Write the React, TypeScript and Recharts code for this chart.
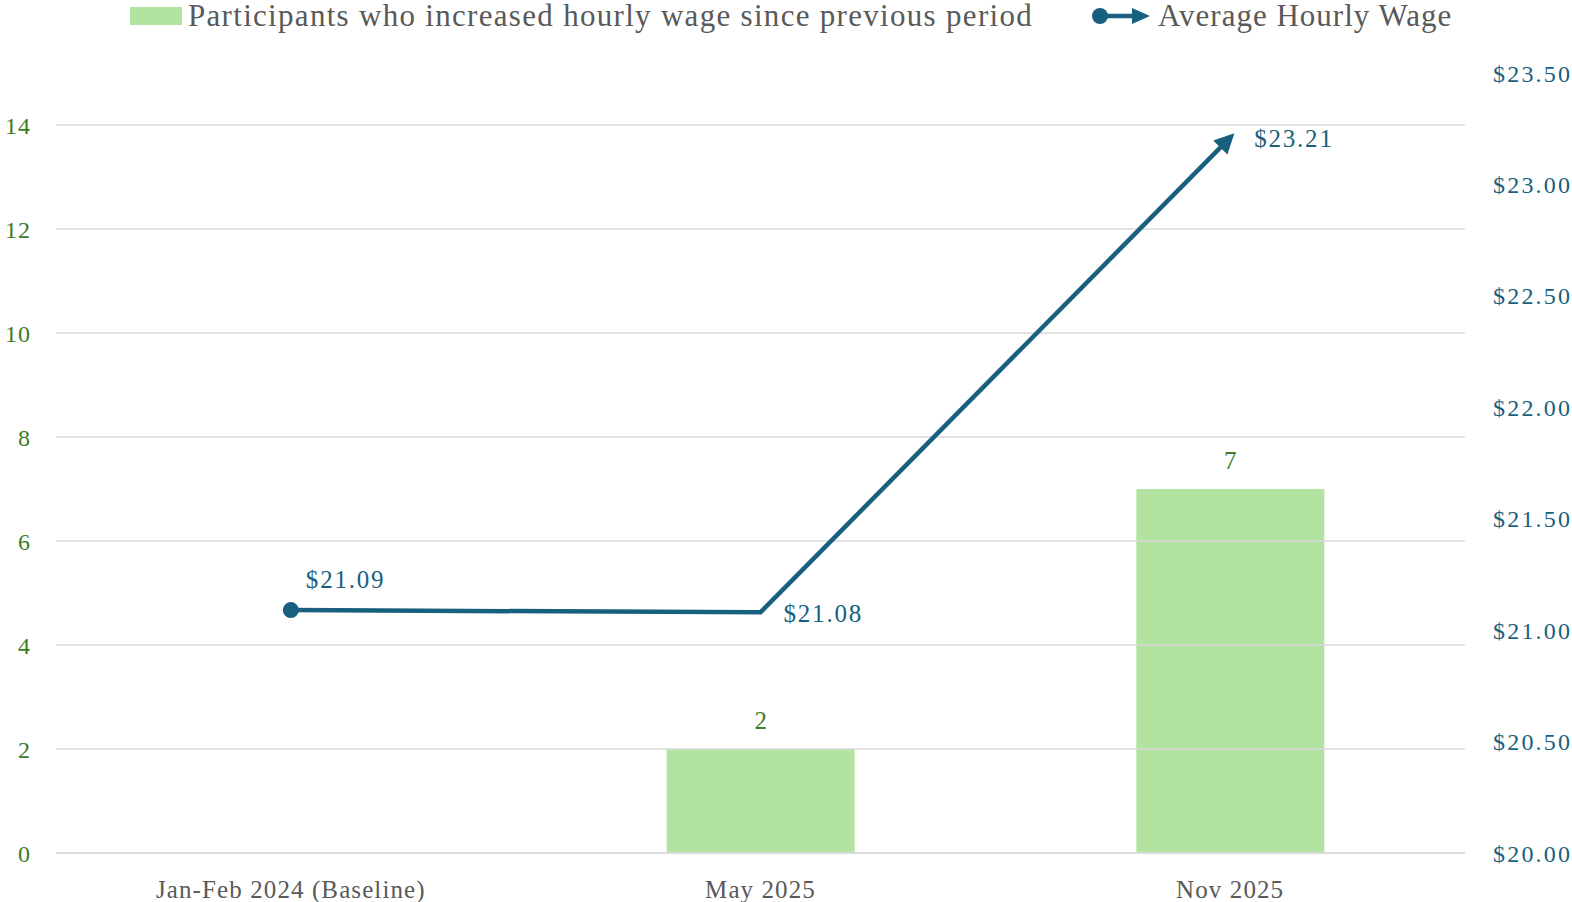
import { ComposedChart, Bar, Line, XAxis, YAxis, ReferenceLine, LabelList } from 'recharts';

const periods = ['Jan-Feb 2024 (Baseline)', 'May 2025', 'Nov 2025'];
const participantsIncreased = [0, 2, 7];
const avgHourlyWage = [21.09, 21.08, 23.21];
const leftTicks = [0, 2, 4, 6, 8, 10, 12, 14];
const rightTicks = [20, 20.5, 21, 21.5, 22, 22.5, 23, 23.5];

const GREEN_BAR = '#b3e3a0';
const GREEN_TEXT = '#3b7d23';
const BLUE = '#195f80';
const GRAY_TEXT = '#595959';
const GRID = '#d9d9d9';
const FONT = '"Liberation Serif", "Times New Roman", serif';

const data = periods.map((p, i) => ({
    period: p,
    participants: participantsIncreased[i],
    wage: avgHourlyWage[i],
}));

// label offsets for the wage line, per point
const wageLabelOffset = [
    { dx: 15, dy: -31 },
    { dx: 23, dy: 1 },
    { dx: 24, dy: 1 },
];

const WageDot = (props: any) => {
    const { cx, cy, index } = props;
    if (index !== 0) return <g key={`d${index}`} />;
    return <circle key={`d${index}`} cx={cx} cy={cy} r={8} fill={BLUE} />;
};

export default function App() {
    return (
        <div style={{ position: 'absolute', left: 0, top: 0, width: 1572, height: 902, background: '#fff', fontFamily: FONT }}>
            <svg width={0} height={0} style={{ position: 'absolute' }}>
                <defs>
                    <marker
                        id="wageArrow"
                        viewBox="0 0 10 10"
                        refX={7}
                        refY={5}
                        markerWidth={22}
                        markerHeight={20}
                        markerUnits="userSpaceOnUse"
                        orient="auto"
                    >
                        <path d="M0,0 L10,5 L0,10 z" fill={BLUE} />
                    </marker>
                </defs>
            </svg>

            {/* Legend */}
            <div style={{ position: 'absolute', top: -1, left: 130, height: 34, display: 'flex', alignItems: 'center', fontSize: 31, letterSpacing: 1.3, color: GRAY_TEXT }}>
                <div style={{ width: 52, height: 18, background: GREEN_BAR, marginRight: 6 }} />
                <span>Participants who increased hourly wage since previous period</span>
            </div>
            <div style={{ position: 'absolute', top: -1, left: 1090, height: 34, display: 'flex', alignItems: 'center', fontSize: 31, letterSpacing: 1, color: GRAY_TEXT }}>
                <svg width={62} height={20} style={{ marginRight: 6 }}>
                    <line x1={10} y1={10} x2={46} y2={10} stroke={BLUE} strokeWidth={4.5} />
                    <circle cx={10} cy={10} r={8} fill={BLUE} />
                    <path d="M42,2 L60,10 L42,18 z" fill={BLUE} />
                </svg>
                <span>Average Hourly Wage</span>
            </div>

            <ComposedChart
                width={1572}
                height={902}
                data={data}
                margin={{ top: 73, right: 0, bottom: 0, left: 0 }}
                style={{ fontFamily: FONT }}
            >
                <XAxis
                    dataKey="period"
                    height={49}
                    axisLine={{ stroke: GRID, strokeWidth: 1.5 }}
                    tickLine={false}
                    tickSize={0}
                    tickMargin={27}
                    tick={{ fontSize: 25, fill: GRAY_TEXT, fontFamily: FONT, letterSpacing: 1.1 }}
                />
                <YAxis
                    yAxisId="left"
                    width={56}
                    domain={[0, 15]}
                    ticks={leftTicks}
                    axisLine={false}
                    tickLine={false}
                    tickSize={0}
                    tickMargin={25}
                    tick={{ fontSize: 24, fill: GREEN_TEXT, fontFamily: FONT, letterSpacing: 1 }}
                />
                <YAxis
                    yAxisId="right"
                    orientation="right"
                    width={107}
                    domain={[20, 23.5]}
                    ticks={rightTicks}
                    axisLine={false}
                    tickLine={false}
                    tickSize={0}
                    tickMargin={28}
                    tick={{ fontSize: 24, fill: BLUE, fontFamily: FONT, textAnchor: 'start', letterSpacing: 2.2 }}
                    tickFormatter={(v: number) => `$${v.toFixed(2)}`}
                />
                {leftTicks.map((t) => (
                    <ReferenceLine key={t} yAxisId="left" y={t} stroke={GRID} strokeWidth={1.5} />
                ))}
                <Bar yAxisId="left" dataKey="participants" fill={GREEN_BAR} barSize={188} isAnimationActive={false}>
                    <LabelList
                        dataKey="participants"
                        content={(props: any) => {
                            const { x, y, width, value } = props;
                            if (!value) return null;
                            return (
                                <text x={x + width / 2} y={y - 29} textAnchor="middle" dominantBaseline="central" fontSize={25} fill={GREEN_TEXT} fontFamily={FONT}>
                                    {value}
                                </text>
                            );
                        }}
                    />
                </Bar>
                <Line
                    yAxisId="right"
                    dataKey="wage"
                    stroke={BLUE}
                    strokeWidth={4.5}
                    dot={WageDot}
                    activeDot={false}
                    markerEnd="url(#wageArrow)"
                    isAnimationActive={false}
                >
                    <LabelList
                        dataKey="wage"
                        content={(props: any) => {
                            const { x, y, value, index } = props;
                            const off = wageLabelOffset[index] || { dx: 15, dy: 0 };
                            return (
                                <text x={x + off.dx} y={y + off.dy} textAnchor="start" dominantBaseline="central" fontSize={25} letterSpacing={1.8} fill={BLUE} fontFamily={FONT}>
                                    {`$${Number(value).toFixed(2)}`}
                                </text>
                            );
                        }}
                    />
                </Line>
            </ComposedChart>
        </div>
    );
}
